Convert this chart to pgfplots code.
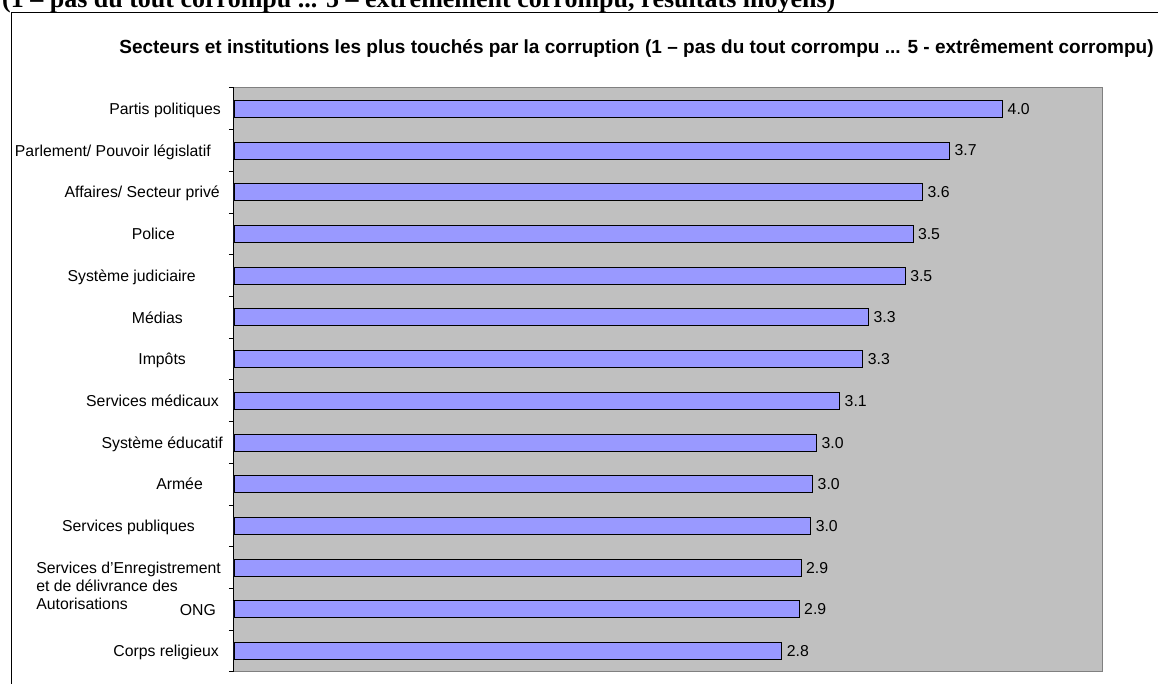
\documentclass[border=0pt]{standalone}
\usepackage{fontspec}
\setmainfont{Liberation Sans}
\newfontfamily\serifbold{Liberation Serif}
\usepackage{pgfplots}
\pgfplotsset{compat=1.18}
\usetikzlibrary{calc}
\definecolor{barblue}{HTML}{9999FF}
\definecolor{plotbg}{HTML}{C0C0C0}
\definecolor{plotborder}{HTML}{808080}
\newcommand{\gap}[1]{\rule{#1bp}{0pt}}
\begin{document}
\begin{tikzpicture}[x=1bp,y=1bp]
\begin{axis}[
  scale only axis, width=868bp, height=584bp,
  xmin=0, xmax=4.5, ymin=-0.5, ymax=13.5,
  axis x line=none, axis y line*=left,
  axis line style={black, line width=1bp, -},
  axis background/.style={fill=plotbg, draw=plotborder, line width=1bp},
  ytick={0,...,13},
  yticklabels={
    {Corps religieux\gap{15}},
    {ONG\gap{18}},
    {\smash{\begin{tabular}[t]{@{}l@{}}Services d’Enregistrement\\et de délivrance des\\Autorisations\end{tabular}}\gap{13}},
    {Services publiques\gap{39}},
    {Armée\gap{31}},
    {Système éducatif\gap{11}},
    {Services médicaux\gap{15}},
    {Impôts\gap{48}},
    {Médias\gap{51}},
    {Système judiciaire\gap{38}},
    {Police\gap{59}},
    {Affaires/ Secteur privé\gap{14}},
    {Parlement/ Pouvoir législatif\gap{23}},
    {Partis politiques\gap{13}}
  },
  major tick length=0pt,
  minor ytick={-0.5,0.5,...,13.5},
  minor tick length=5bp,
  tick align=outside,
  minor tick style={black, line width=1bp},
  yticklabel style={anchor=base east, inner sep=0pt, yshift=-5.65bp, font=\fontsize{15.8bp}{18bp}\selectfont},
  xbar, bar width=17bp,
  point meta=x,
  nodes near coords={\pgfmathprintnumber[fixed,fixed zerofill,precision=1,assume math mode=true]{\pgfplotspointmeta}},
  nodes near coords style={anchor=west, inner sep=0pt, xshift=4.6bp, font=\fontsize{15.8bp}{18bp}\selectfont},
]
\addplot[draw=black, fill=barblue, line width=0.9bp] coordinates {
  (2.84,0) (2.93,1) (2.94,2) (2.99,3) (3.00,4) (3.02,5) (3.14,6)
  (3.26,7) (3.29,8) (3.48,9) (3.52,10) (3.57,11) (3.71,12) (3.985,13)
};
\coordinate (O) at (rel axis cs:0,0);
\end{axis}
\begin{scope}[shift={($(O)+(-234,-12)$)}]
\node[anchor=base west, inner sep=0pt, font=\serifbold\bfseries\fontsize{26bp}{30bp}\selectfont] at (2,676) {(1 – pas du tout corrompu ... 5 – extrêmement corrompu, résultats moyens)};
\draw[line width=1bp] (11.7,-20) -- (11.7,671.5) -- (1200,671.5);
\node[anchor=base, inner sep=0pt, font=\bfseries\fontsize{19bp}{22bp}\selectfont] at (636.5,630) {Secteurs et institutions les plus touchés par la corruption (1 – pas du tout corrompu ... 5 - extrêmement corrompu)};
\end{scope}
\pgfresetboundingbox
\path[use as bounding box] ($(O)+(-234,-12)$) rectangle ++(1158,684);
\end{tikzpicture}
\end{document}
